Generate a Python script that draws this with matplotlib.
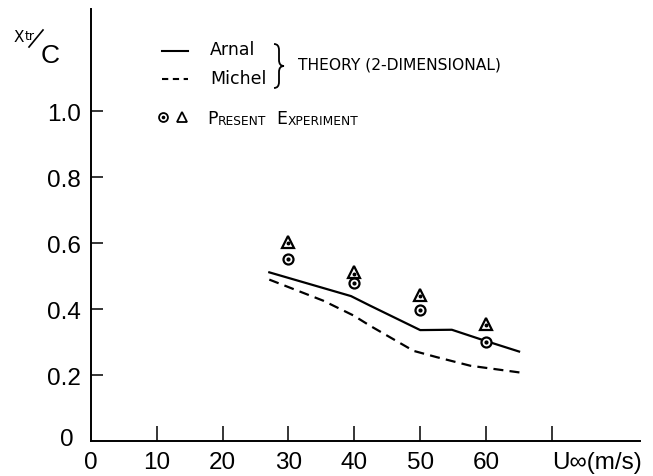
import matplotlib
matplotlib.use("Agg")
import matplotlib.pyplot as plt
from matplotlib.path import Path
from matplotlib.patches import PathPatch
from matplotlib.lines import Line2D

# ---- data -------------------------------------------------------------
# Theory (2-dimensional): Arnal
arnal_u = [27.1, 39.5, 42.4, 50.0, 54.8, 59.8, 65.0]
arnal_x = [0.512, 0.440, 0.411, 0.337, 0.338, 0.305, 0.272]
# Theory (2-dimensional): Michel
michel_u = [27.1, 35.3, 39.9, 42.4, 49.0, 52.5, 57.6, 65.3]
michel_x = [0.490, 0.426, 0.381, 0.350, 0.274, 0.255, 0.229, 0.208]
# Present experiment
exp_u = [30, 40, 50, 60]
exp_circle = [0.552, 0.480, 0.399, 0.302]
exp_triangle = [0.605, 0.512, 0.443, 0.355]

x_ticks = [10, 20, 30, 40, 50, 60, 70]
x_tick_labels = ["10", "20", "30", "40", "50", "60", "U\u221e(m/s)"]
y_ticks = [0.2, 0.4, 0.6, 0.8, 1.0]
y_tick_labels = ["0.2", "0.4", "0.6", "0.8", "1.0"]

# ---- figure -----------------------------------------------------------
W, H = 653, 477
fig = plt.figure(figsize=(W / 100, H / 100), dpi=100)
num_font = ["Liberation Sans", "DejaVu Sans"]
txt_font = ["DejaVu Sans"]
NUM_SIZE = 17.5


def fx(px):
    return px / W


def fy(py):
    return 1 - py / H


ax = fig.add_axes([fx(90.7), fy(442.3), fx(640) - fx(90.7), fy(10) - fy(442.3)])
ax.set_xlim(0, 83.35)
ax.set_ylim(0, 1.31)
for s in ("top", "right"):
    ax.spines[s].set_visible(False)
for s in ("left", "bottom"):
    ax.spines[s].set_linewidth(1.4)

ax.set_xticks(x_ticks)
xl = ax.set_xticklabels(x_tick_labels, fontsize=NUM_SIZE, family=num_font)
xl[-1].set_horizontalalignment("left")
ax.set_yticks(y_ticks)
ax.set_yticklabels(y_tick_labels, fontsize=NUM_SIZE, family=num_font)
ax.tick_params(axis="x", direction="in", length=10.8, width=1.1, pad=7)
ax.tick_params(axis="y", direction="in", length=8.6, width=1.1, pad=7)

# origin labels
fig.text(fx(91), fy(463), "0", fontsize=NUM_SIZE, family=num_font, ha="center", va="center")
fig.text(fx(67), fy(440), "0", fontsize=NUM_SIZE, family=num_font, ha="center", va="center")

# theory curves
ax.plot(arnal_u, arnal_x, color="black", lw=1.6, solid_joinstyle="round")
ax.plot(michel_u, michel_x, color="black", lw=1.6, ls=(0, (4.5, 2.8)))

# experiment markers
ax.plot(exp_u, exp_circle, ls="none", marker="o", ms=7.2, mfc="white",
        mec="black", mew=1.6)
ax.plot(exp_u, exp_circle, ls="none", marker="o", ms=2.0, color="black")
ax.plot(exp_u, exp_triangle, ls="none", marker="^", ms=8.5, mfc="white",
        mec="black", mew=1.6)
ax.plot(exp_u, [v - 0.004 for v in exp_triangle], ls="none", marker="o",
        ms=1.8, color="black")

# ---- axis title X_tr / C ---------------------------------------------
fig.text(fx(14), fy(38), "X", fontsize=11, family=txt_font, ha="left", va="center")
fig.text(fx(25), fy(37), "tr", fontsize=9, family=txt_font, ha="left", va="center")
fig.add_artist(Line2D([fx(29), fx(43)], [fy(48), fy(31)], color="black", lw=1.2))
fig.text(fx(50), fy(56), "C", fontsize=19, family=num_font, ha="center", va="center")

# ---- legend -----------------------------------------------------------
fig.add_artist(Line2D([fx(162), fx(188)], [fy(52), fy(52)], color="black", lw=1.5))
fig.add_artist(Line2D([fx(162), fx(188)], [fy(80), fy(80)], color="black", lw=1.5,
                      ls=(0, (3.0, 2.2))))
fig.text(fx(210), fy(50), "Arnal", fontsize=12.5, family=txt_font, ha="left", va="center")
fig.text(fx(210), fy(79), "Michel", fontsize=12.5, family=txt_font, ha="left", va="center")

# curly brace joining the two theory entries
bx, top, mid, bot = 274, 45, 67, 89
verts = [
    (bx, top), (bx + 5, top), (bx + 5, top + 6),
    (bx + 5, mid - 6),
    (bx + 5, mid), (bx + 10, mid),
    (bx + 5, mid), (bx + 5, mid + 6),
    (bx + 5, bot - 6),
    (bx + 5, bot), (bx, bot),
]
codes = [Path.MOVETO, Path.CURVE3, Path.CURVE3, Path.LINETO,
         Path.CURVE3, Path.CURVE3, Path.CURVE3, Path.CURVE3,
         Path.LINETO, Path.CURVE3, Path.CURVE3]
brace = Path([(fx(x), fy(y)) for x, y in verts], codes)
fig.add_artist(PathPatch(brace, transform=fig.transFigure, fill=False,
                         lw=1.3, edgecolor="black"))
fig.text(fx(298), fy(65), "THEORY (2-DIMENSIONAL)", fontsize=11.2, family=txt_font,
         ha="left", va="center")

# experiment entry
fig.add_artist(Line2D([fx(163)], [fy(118)], ls="none", marker="o", ms=6.4,
                      mfc="white", mec="black", mew=1.3))
fig.add_artist(Line2D([fx(163)], [fy(118)], ls="none", marker="o", ms=1.6,
                      color="black"))
fig.add_artist(Line2D([fx(182)], [fy(118)], ls="none", marker="^", ms=7.0,
                      mfc="white", mec="black", mew=1.3))

# small-caps "PRESENT EXPERIMENT"
pieces = [("P", 12.5), ("RESENT", 8.8), ("  E", 12.5), ("XPERIMENT", 8.8)]
prev = fig.text(fx(207), fy(124), pieces[0][0], fontsize=pieces[0][1],
                family=txt_font, ha="left", va="baseline")
for s, size in pieces[1:]:
    prev = ax.annotate(s, xy=(1, 0), xycoords=prev, fontsize=size,
                       family=txt_font, ha="left", va="bottom",
                       annotation_clip=False)

fig.savefig("out.png", dpi=100)
